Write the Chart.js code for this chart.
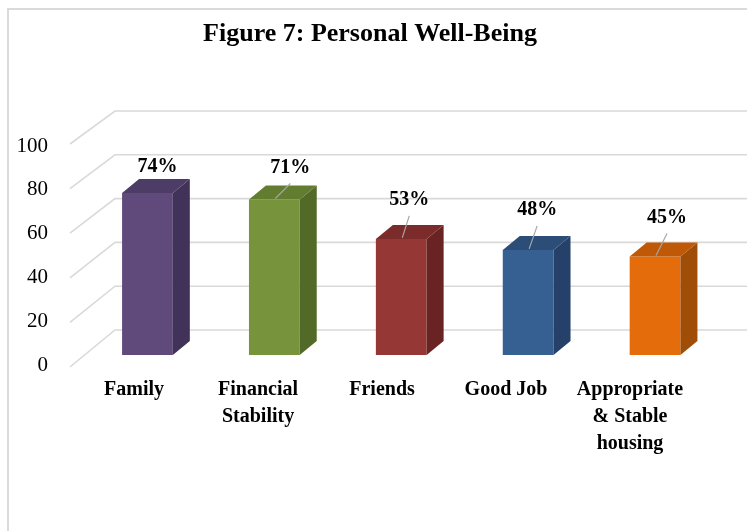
<!DOCTYPE html>
<html>
<head>
<meta charset="utf-8">
<script src="https://cdn.jsdelivr.net/npm/chart.js@4/dist/chart.umd.min.js"></script>
<style>
  html, body { margin: 0; padding: 0; background: #ffffff; }
  #wrap { width: 747px; height: 531px; }
</style>
</head>
<body>
<div id="wrap"><canvas id="chart" width="747" height="531"></canvas></div>
<script>
// Survey results: share of respondents naming each factor of personal well-being
const categories = [
  ['Family'],
  ['Financial', 'Stability'],
  ['Friends'],
  ['Good Job'],
  ['Appropriate', '& Stable', 'housing']
];
const values = [74, 71, 53, 48, 45];
const yTicks = [0, 20, 40, 60, 80, 100];

// Face colours of each 3D column: front, top, side
const frontColors = ['#604a7b', '#77933c', '#953735', '#376092', '#e46c0a'];
const topColors   = ['#4d3c66', '#627c30', '#7b2b2a', '#2c4d77', '#bf5908'];
const sideColors  = ['#41325a', '#526a27', '#682322', '#25416a', '#a04d07'];

// Where each value label sits relative to the top of its column, and whether it gets a leader line
const labelShift = [[10, -26], [16, -32], [8, -39], [9, -40], [12, -39]];
const leaderShown = [false, true, true, true, true];

const SERIF = "'Liberation Serif', 'Times New Roman', serif";
const DEPTH_X = 17, DEPTH_Y = -14;

// Light frame, and the back wall / side wall grid of the 3D plot
const wallGrid = {
  id: 'wallGrid',
  beforeDatasetsDraw(chart) {
    const { ctx, chartArea, scales: { y } } = chart;
    ctx.save();
    ctx.strokeStyle = '#dadada';
    ctx.lineWidth = 2;
    ctx.beginPath();
    ctx.moveTo(8, chart.height);
    ctx.lineTo(8, 9);
    ctx.lineTo(chart.width, 9);
    ctx.stroke();

    ctx.strokeStyle = '#d9d9d9';
    ctx.lineWidth = 1.6;
    const frontX = chartArea.left - 14;
    const backX = chartArea.left + 31;
    yTicks.forEach(v => {
      const py = y.getPixelForValue(v);
      const backY = py - 25;
      const frontY = py + 12 - 0.04 * v;
      ctx.beginPath();
      ctx.moveTo(frontX, frontY);
      ctx.lineTo(backX, backY);
      ctx.lineTo(chart.width, backY);
      ctx.stroke();
    });
    ctx.restore();
  }
};

// Top and side faces of each column, built on the bar elements
const columnFaces = {
  id: 'columnFaces',
  afterDatasetsDraw(chart) {
    const { ctx } = chart;
    const meta = chart.getDatasetMeta(0);
    ctx.save();
    meta.data.forEach((bar, i) => {
      const { x, y, base, width } = bar.getProps(['x', 'y', 'base', 'width'], true);
      const l = x - width / 2, r = x + width / 2;
      // side
      ctx.fillStyle = sideColors[i];
      ctx.beginPath();
      ctx.moveTo(r, y);
      ctx.lineTo(r + DEPTH_X, y + DEPTH_Y);
      ctx.lineTo(r + DEPTH_X, base + DEPTH_Y);
      ctx.lineTo(r, base);
      ctx.closePath();
      ctx.fill();
      // top
      ctx.fillStyle = topColors[i];
      ctx.beginPath();
      ctx.moveTo(l, y);
      ctx.lineTo(l + DEPTH_X, y + DEPTH_Y);
      ctx.lineTo(r + DEPTH_X, y + DEPTH_Y);
      ctx.lineTo(r, y);
      ctx.closePath();
      ctx.fill();
    });
    ctx.restore();
  }
};

// Value labels with leader lines, and the category names along the front edge of the floor
const textLabels = {
  id: 'textLabels',
  afterDraw(chart) {
    const { ctx, scales: { x } } = chart;
    const meta = chart.getDatasetMeta(0);
    ctx.save();
    ctx.textAlign = 'center';
    ctx.textBaseline = 'middle';
    ctx.fillStyle = '#000000';

    ctx.font = 'bold 20px ' + SERIF;
    meta.data.forEach((bar, i) => {
      const { x: bx, y: by } = bar.getProps(['x', 'y'], true);
      const lx = bx + labelShift[i][0];
      const ly = by + labelShift[i][1];
      ctx.fillText(values[i] + '%', lx, ly);
      if (leaderShown[i]) {
        ctx.strokeStyle = '#a6a6a6';
        ctx.lineWidth = 1.2;
        ctx.beginPath();
        ctx.moveTo(lx, ly + 16);
        ctx.lineTo(bx + 1, by - 1);
        ctx.stroke();
      }
    });

    ctx.font = 'bold 20px ' + SERIF;
    categories.forEach((lines, i) => {
      const cx = 0.977 * x.getPixelForValue(i) - 10;
      lines.forEach((t, j) => ctx.fillText(t, cx, 390 + j * 27));
    });
    ctx.restore();
  }
};

new Chart(document.getElementById('chart'), {
  type: 'bar',
  data: {
    labels: categories,
    datasets: [{
      data: values,
      backgroundColor: frontColors,
      borderWidth: 0,
      barPercentage: 0.4,
      categoryPercentage: 1
    }]
  },
  options: {
    responsive: false,
    animation: false,
    devicePixelRatio: 1,
    layout: { padding: { left: 0, right: 7, top: 0, bottom: 176 } },
    plugins: {
      legend: { display: false },
      tooltip: { enabled: false },
      title: {
        display: true,
        text: 'Figure 7: Personal Well-Being',
        color: '#000000',
        font: { family: SERIF, size: 26, weight: 'bold' },
        padding: { top: 19, bottom: 85.8 }
      }
    },
    scales: {
      x: { display: false, offset: true },
      y: {
        min: 0,
        max: 100,
        afterBuildTicks: s => { s.ticks = yTicks.map(v => ({ value: v })); },
        afterFit: s => { s.width = 84; },
        grid: { display: false },
        border: { display: false },
        ticks: {
          padding: 28,
          labelOffset: 10,
          color: '#000000',
          font: { family: SERIF, size: 21 }
        }
      },
      // empty margin on the right of the plot
      yRight: {
        position: 'right',
        min: 0,
        max: 100,
        afterFit: s => { s.width = 21.5; },
        grid: { display: false },
        border: { display: false },
        ticks: { display: false }
      }
    }
  },
  plugins: [wallGrid, columnFaces, textLabels]
});
</script>
</body>
</html>
